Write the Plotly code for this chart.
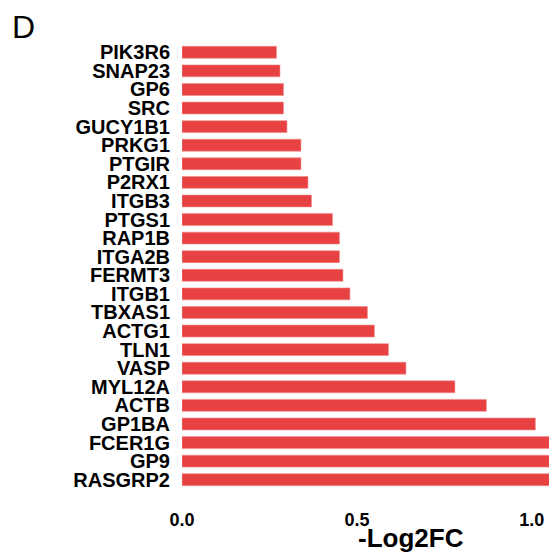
import plotly.graph_objects as go

genes = ["PIK3R6", "SNAP23", "GP6", "SRC", "GUCY1B1", "PRKG1", "PTGIR", "P2RX1",
         "ITGB3", "PTGS1", "RAP1B", "ITGA2B", "FERMT3", "ITGB1", "TBXAS1", "ACTG1",
         "TLN1", "VASP", "MYL12A", "ACTB", "GP1BA", "FCER1G", "GP9", "RASGRP2"]
neg_log2fc = [0.27, 0.28, 0.29, 0.29, 0.30, 0.34, 0.34, 0.36,
              0.37, 0.43, 0.45, 0.45, 0.46, 0.48, 0.53, 0.55,
              0.59, 0.64, 0.78, 0.87, 1.01, 1.12, 1.18, 1.25]
x_ticks = [0.0, 0.5, 1.0]
x_tick_text = ["0.0", "0.5", "1.0"]

FONT = "Arial, Liberation Sans, Helvetica, sans-serif"

fig = go.Figure(go.Bar(
    x=neg_log2fc, y=genes, orientation="h",
    marker=dict(color="#E84142", line=dict(color="#F08A8A", width=0.6)),
    width=0.64,
))

fig.update_layout(
    width=549, height=554,
    margin=dict(l=182, r=0, t=43, b=65),
    paper_bgcolor="white", plot_bgcolor="white",
    showlegend=False,
    font=dict(family=FONT, color="black"),
    xaxis=dict(
        range=[0, 1.049], showgrid=False, zeroline=False, showline=False,
        tickmode="array", tickvals=x_ticks, ticktext=x_tick_text,
        ticks="outside", ticklen=14, tickcolor="rgba(0,0,0,0)",
        tickfont=dict(family=FONT, size=18, weight="bold", color="black"),
    ),
    yaxis=dict(
        range=[len(genes) - 0.5, -0.5], showgrid=False, zeroline=False, showline=False,
        tickmode="array", tickvals=genes, ticktext=genes,
        ticks="outside", ticklen=7, tickcolor="rgba(0,0,0,0)",
        tickfont=dict(family=FONT, size=20, weight="bold", color="black"),
    ),
    annotations=[
        dict(text="-Log2FC", x=411, y=554 - 538, xref="paper", yref="paper",
             showarrow=False, font=dict(family=FONT, size=26, weight="bold", color="black"),
             xanchor="center", yanchor="middle"),
        dict(text="D", x=10, y=554 - 27, xref="paper", yref="paper",
             showarrow=False, font=dict(family=FONT, size=32, color="black"),
             xanchor="left", yanchor="middle"),
    ],
)

# convert pixel-based annotation positions to paper fractions
pw = 549 - 182 - 0
ph = 554 - 43 - 65
for a in fig.layout.annotations:
    a.x = (a.x - 182) / pw
    a.y = (a.y - 65) / ph

fig.write_html("out.html")
